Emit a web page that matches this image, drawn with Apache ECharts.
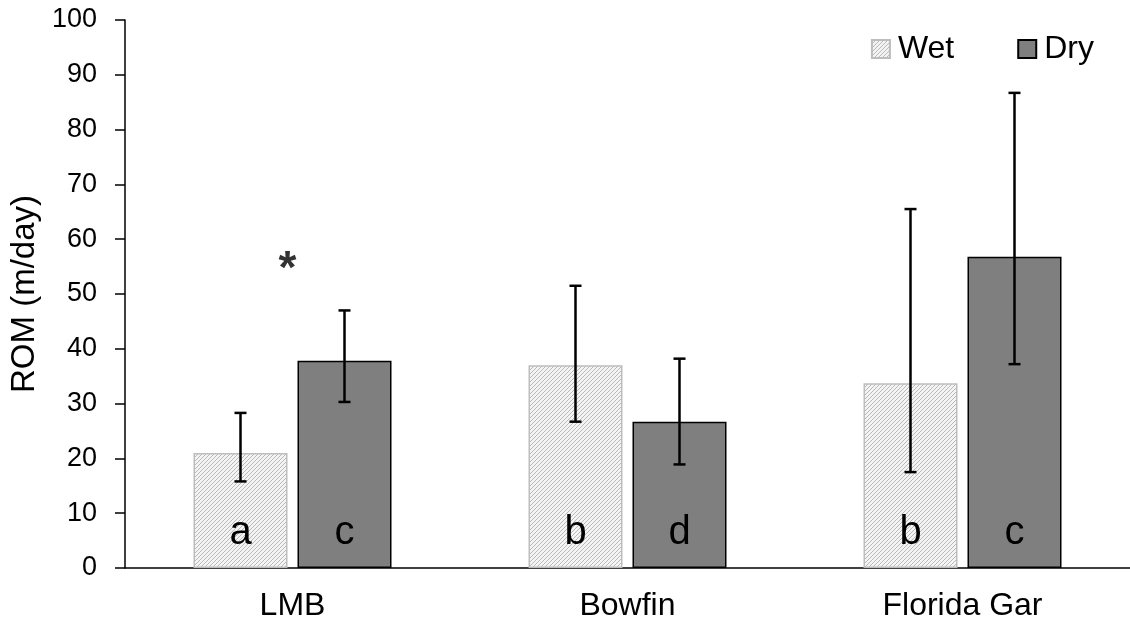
<!DOCTYPE html>
<html>
<head>
<meta charset="utf-8">
<script src="https://cdn.jsdelivr.net/npm/echarts@6/dist/echarts.min.js"></script>
<style>
  html, body { margin: 0; padding: 0; background: #fff; }
  #chart { width: 1130px; height: 633px; }
</style>
</head>
<body>
<div id="chart"></div>
<script>
var categories = ['LMB', 'Bowfin', 'Florida Gar'];
var wetMean = [21.0, 37.0, 33.7];
var dryMean = [37.8, 26.7, 56.8];
var wetLow = [15.8, 26.7, 17.5];
var wetHigh = [28.3, 51.5, 65.5];
var dryLow = [30.3, 18.9, 37.2];
var dryHigh = [47.0, 38.2, 86.7];
var wetLetters = ['a', 'b', 'b'];
var dryLetters = ['c', 'd', 'c'];
var starCategory = 'LMB';
var starValue = 55.5;

// hatch pattern for the wet bars
function makeHatch() {
    var c = document.createElement('canvas');
    c.width = 4; c.height = 4;
    var ctx = c.getContext('2d');
    ctx.fillStyle = '#f4f4f4';
    ctx.fillRect(0, 0, 4, 4);
    ctx.strokeStyle = '#b8b8b8';
    ctx.lineWidth = 1;
    ctx.beginPath();
    ctx.moveTo(-1, 5); ctx.lineTo(5, -1);
    ctx.moveTo(-1, 1); ctx.lineTo(1, -1);
    ctx.moveTo(3, 5); ctx.lineTo(5, 3);
    ctx.stroke();
    return c;
}

var barW = 94;
var gap = 10;
var shift = (barW + gap) / 2;

function errData(low, high) {
    var out = [];
    for (var i = 0; i < categories.length; ++i) {
        out.push([i, low[i], high[i]]);
    }
    return out;
}

function errRender(side) {
    return function (params, api) {
        var top = api.coord([api.value(0), api.value(2)]);
        var bot = api.coord([api.value(0), api.value(1)]);
        var x = top[0] + side * shift;
        var cap = 6;
        var st = { stroke: '#000', lineWidth: 2.5 };
        return {
            type: 'group',
            children: [
                { type: 'line', shape: { x1: x, y1: top[1], x2: x, y2: bot[1] }, style: st },
                { type: 'line', shape: { x1: x - cap, y1: top[1], x2: x + cap, y2: top[1] }, style: st },
                { type: 'line', shape: { x1: x - cap, y1: bot[1], x2: x + cap, y2: bot[1] }, style: st }
            ]
        };
    };
}

var myChart = echarts.init(document.getElementById('chart'));

var option = {
    animation: false,
    textStyle: { fontFamily: 'Liberation Sans, Arial, sans-serif', color: '#000' },
    legend: {
        top: 28,
        right: 31,
        icon: 'rect',
        itemWidth: 18,
        itemHeight: 18,
        itemGap: 63,
        textStyle: { fontSize: 32, color: '#000', padding: [0, 0, 0, 3] },
        data: ['Wet', 'Dry']
    },
    grid: {
        left: 125,
        top: 20,
        right: 0,
        bottom: 65
    },
    xAxis: {
        type: 'category',
        data: categories,
        axisLine: { lineStyle: { color: '#000', width: 1.5 } },
        axisTick: { show: false },
        axisLabel: { fontSize: 32, color: '#000', margin: 22 }
    },
    yAxis: {
        type: 'value',
        min: 0,
        max: 100,
        interval: 10,
        name: 'ROM (m/day)',
        nameLocation: 'middle',
        nameGap: 80,
        nameTextStyle: { fontSize: 33, color: '#000' },
        axisLine: { show: true, lineStyle: { color: '#000', width: 1.5 } },
        axisTick: { show: true, length: 10, lineStyle: { color: '#000', width: 1.5 } },
        axisLabel: { fontSize: 27, color: '#000', margin: 28 },
        splitLine: { show: false }
    },
    series: [
        {
            name: 'Wet',
            type: 'bar',
            data: wetMean,
            barWidth: barW,
            barGap: (gap / barW * 100) + '%',
            itemStyle: {
                color: { image: makeHatch(), repeat: 'repeat' },
                borderColor: '#bdbdbd',
                borderWidth: 1.5
            },
            label: {
                show: true,
                position: 'insideBottom',
                distance: 15,
                fontSize: 40,
                color: '#000',
                formatter: function (p) { return wetLetters[p.dataIndex]; }
            }
        },
        {
            name: 'Dry',
            type: 'bar',
            data: dryMean,
            barWidth: barW,
            itemStyle: {
                color: '#7f7f7f',
                borderColor: '#000',
                borderWidth: 1.5
            },
            label: {
                show: true,
                position: 'insideBottom',
                distance: 15,
                fontSize: 40,
                color: '#000',
                formatter: function (p) { return dryLetters[p.dataIndex]; }
            }
        },
        {
            type: 'custom',
            renderItem: errRender(-1),
            data: errData(wetLow, wetHigh),
            z: 10,
            silent: true
        },
        {
            type: 'custom',
            renderItem: errRender(1),
            data: errData(dryLow, dryHigh),
            z: 10,
            silent: true
        },
        {
            type: 'scatter',
            symbolSize: 0,
            data: [[starCategory, starValue]],
            silent: true,
            label: {
                show: true,
                position: 'inside',
                offset: [-5, 6],
                formatter: '*',
                fontSize: 46,
                fontWeight: 'bold',
                color: '#000'
            }
        }
    ]
};

myChart.setOption(option);
window.addEventListener('resize', function () {
    myChart.resize();
});
</script>
</body>
</html>
